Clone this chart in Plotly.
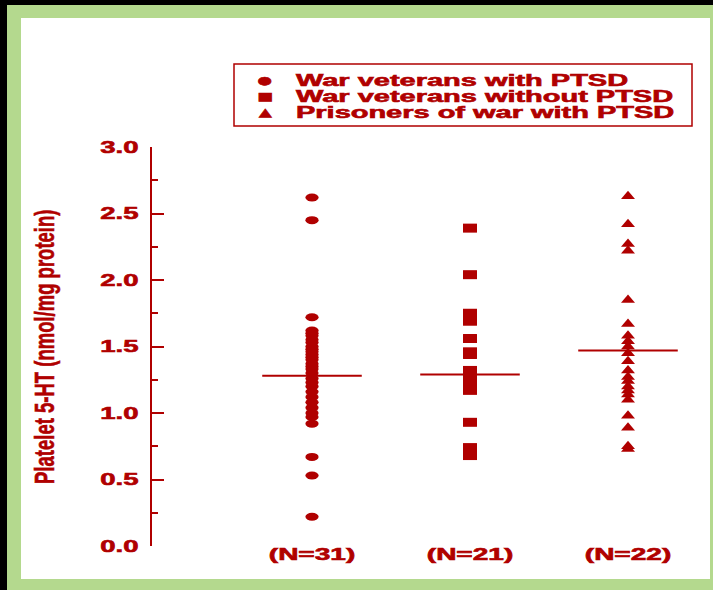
import json
import plotly.graph_objects as go

# ---- data -------------------------------------------------------------
groups = ["War veterans with PTSD", "War veterans without PTSD", "Prisoners of war with PTSD"]
n_labels = ["(N=31)", "(N=21)", "(N=22)"]
positions = [1, 2, 3]

ptsd_veterans = [2.62, 2.45, 1.72, 1.62, 1.60, 1.58, 1.55, 1.53, 1.50, 1.48, 1.46,
                 1.44, 1.42, 1.40, 1.37, 1.35, 1.33, 1.30, 1.26, 1.23, 1.20, 1.16,
                 1.12, 1.08, 1.04, 1.00, 0.97, 0.92, 0.67, 0.53, 0.22]
non_ptsd_veterans = [2.39, 2.04, 1.75, 1.72, 1.69, 1.56, 1.46, 1.45, 1.44, 1.32, 1.30,
                     1.27, 1.24, 1.21, 1.19, 1.17, 0.93, 0.74, 0.72, 0.70, 0.68]
ptsd_prisoners = [2.63, 2.42, 2.27, 2.22, 1.85, 1.67, 1.58, 1.54, 1.50, 1.45, 1.39,
                  1.32, 1.27, 1.24, 1.20, 1.17, 1.14, 1.10, 0.98, 0.89, 0.75, 0.73]
group_means = [1.28, 1.29, 1.47]

y_tickvals = [0.0, 0.5, 1.0, 1.5, 2.0, 2.5, 3.0]
y_ticktext = ["0.0", "0.5", "1.0", "1.5", "2.0", "2.5", "3.0"]
y_title = "Platelet 5-HT (nmol/mg protein)"

# ---- style ------------------------------------------------------------
W, H = 713, 590
RED = "#b00000"
GREEN = "#b4d98e"
FONT = "Liberation Sans, Arial, sans-serif"
symbols = ["circle", "square", "triangle-up"]
marker_sizes = [8, 9, 11]
marker_stretch = [1.65, 1.55, 1.1]
key_glyphs = ["\u25cf", "\u25a0", "\u25b2"]
legend_rows = [81, 96.5, 112]


def px(x):
    return x / W


def py(y):
    return 1 - y / H


# plot box in page pixels
L, R, T, B = 152, 700, 147, 546
unit = 158.0  # pixels between neighbouring groups
x_range = [1 - (312 - L) / unit, 3 + (R - 628) / unit]

fig = go.Figure()

for pos, vals, sym, size in zip(positions, [ptsd_veterans, non_ptsd_veterans, ptsd_prisoners],
                                symbols, marker_sizes):
    fig.add_trace(go.Scatter(
        x=[pos] * len(vals), y=vals, mode="markers",
        marker=dict(symbol=sym, size=size, color=RED, line=dict(width=0)),
        showlegend=False, hoverinfo="y"))

half = 0.315
for pos, m in zip(positions, group_means):
    fig.add_trace(go.Scatter(
        x=[pos - half, pos + half], y=[m, m], mode="lines",
        line=dict(color=RED, width=2), showlegend=False, hoverinfo="y"))

shapes = [
    dict(type="rect", xref="paper", yref="paper", x0=px(7), x1=1, y0=0, y1=py(5),
         fillcolor=GREEN, line=dict(width=0), layer="below"),
    dict(type="rect", xref="paper", yref="paper", x0=px(21), x1=px(710), y0=py(579), y1=py(18),
         fillcolor="white", line=dict(width=0), layer="below"),
    dict(type="rect", xref="paper", yref="paper", x0=px(234), x1=px(692), y0=py(126), y1=py(64),
         fillcolor="rgba(0,0,0,0)", line=dict(color=RED, width=1.5)),
]

annotations = []
stretch_ann = []
for g, glyph, ry in zip(groups, key_glyphs, legend_rows):
    annotations.append(dict(
        text=glyph, x=px(265), y=py(ry), xref="paper", yref="paper",
        xanchor="center", yanchor="middle", showarrow=False,
        font=dict(family="DejaVu Sans", size=11, color=RED)))
    stretch_ann.append(1.5)
    annotations.append(dict(
        text=g, x=px(294), y=py(ry), xref="paper", yref="paper",
        xanchor="left", yanchor="middle", align="left", showarrow=False,
        font=dict(family=FONT, size=16, color=RED, weight="bold")))
    stretch_ann.append(1.81)

annotations.append(dict(
    text=y_title, x=px(45), y=py(347), xref="paper", yref="paper",
    xanchor="center", yanchor="middle", textangle=-90, showarrow=False,
    font=dict(family=FONT, size=27, color=RED, weight="bold")))
stretch_ann.append(0.685)

fig.update_layout(
    width=W, height=H, template="none",
    margin=dict(l=0, r=0, t=0, b=0, pad=0),
    paper_bgcolor="black", plot_bgcolor="rgba(0,0,0,0)",
    shapes=shapes, annotations=annotations, showlegend=False,
    xaxis=dict(domain=[px(L), px(R)], range=x_range, showgrid=False, zeroline=False,
               showline=False, ticks="", tickvals=positions, ticktext=n_labels,
               tickfont=dict(family=FONT, size=16, color=RED, weight="bold"),
               ticklabelstandoff=-3, automargin=False),
    yaxis=dict(domain=[py(B), py(T)], range=[0, 3], showgrid=False, zeroline=False,
               showline=True, linecolor=RED, linewidth=2,
               ticks="inside", ticklen=12, tickwidth=1.5, tickcolor=RED,
               tickvals=y_tickvals, ticktext=y_ticktext,
               minor=dict(ticks="inside", ticklen=6, tickwidth=1.5, tickcolor=RED,
                          tickvals=[0.25, 0.75, 1.25, 1.75, 2.25, 2.75]),
               tickfont=dict(family=FONT, size=17, color=RED, weight="bold"),
               ticklabelstandoff=8, automargin=False),
)

# widen the bold lettering (with a thin outline for a heavier face)
# and the point symbols horizontally
post = """
var gd = document.getElementById('{plot_id}');
function stretchText(t, f) {
  var len = t.getComputedTextLength();
  t.setAttribute('textLength', (len * f).toFixed(1));
  t.setAttribute('lengthAdjust', 'spacingAndGlyphs');
  t.style.stroke = '%s';
  t.style.strokeWidth = '0.6px';
}
gd.querySelectorAll('.ytick text').forEach(function (t) { stretchText(t, 1.62); });
gd.querySelectorAll('.xtick text').forEach(function (t) { stretchText(t, 1.75); });
var annF = %s;
gd.querySelectorAll('g.annotation').forEach(function (g) {
  var i = +g.getAttribute('data-index');
  var t = g.querySelector('text.annotation-text');
  if (t && annF[i] !== undefined) stretchText(t, annF[i]);
});
var mk = %s;
var traces = gd.querySelectorAll('.scatterlayer .trace');
for (var i = 0; i < mk.length; i++) {
  traces[i].querySelectorAll('path.point').forEach(function (p) {
    p.setAttribute('transform', p.getAttribute('transform') + ' scale(' + mk[i] + ',1)');
  });
}
""" % (RED, json.dumps(stretch_ann), json.dumps(marker_stretch))

fig.write_html("out.html", post_script=post)
